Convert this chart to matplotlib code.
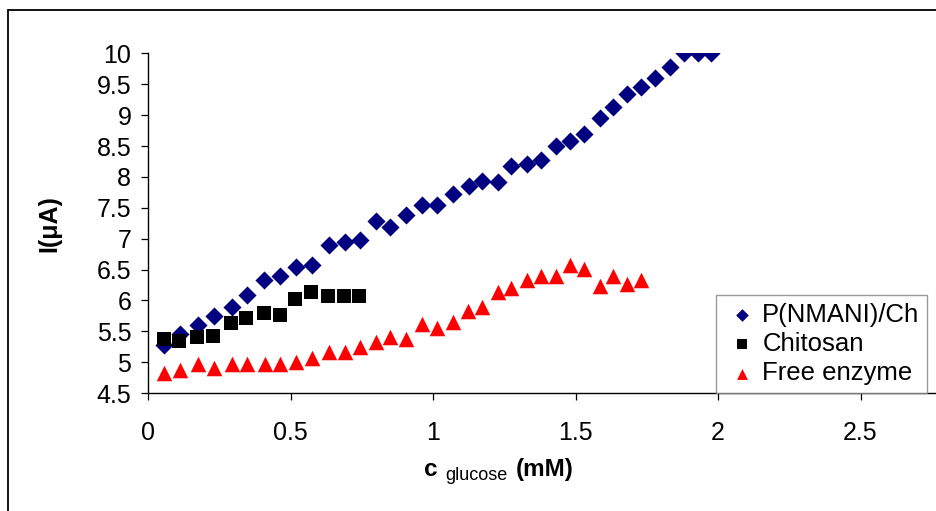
import matplotlib.pyplot as plt
from matplotlib.patches import Rectangle

plt.rcParams['font.family'] = ['Liberation Sans', 'DejaVu Sans']

# P(NMANI)/Ch
c_pn = [0.056, 0.112, 0.174, 0.232, 0.294, 0.347, 0.408, 0.464, 0.518, 0.574,
        0.636, 0.691, 0.744, 0.800, 0.849, 0.904, 0.960, 1.013, 1.069, 1.125,
        1.173, 1.227, 1.275, 1.331, 1.379, 1.433, 1.482, 1.530, 1.585, 1.633,
        1.681, 1.729, 1.778, 1.832, 1.881, 1.929, 1.975]
i_pn = [5.28, 5.46, 5.60, 5.75, 5.90, 6.08, 6.33, 6.39, 6.54, 6.58,
        6.89, 6.95, 6.98, 7.29, 7.19, 7.38, 7.54, 7.54, 7.72, 7.85,
        7.94, 7.92, 8.18, 8.21, 8.28, 8.50, 8.58, 8.70, 8.95, 9.13,
        9.35, 9.45, 9.60, 9.78, 10.0, 10.0, 10.0]

# Chitosan
c_ch = [0.056, 0.110, 0.173, 0.227, 0.290, 0.344, 0.407, 0.463, 0.516, 0.571,
        0.633, 0.689, 0.742]
i_ch = [5.37, 5.34, 5.41, 5.43, 5.64, 5.71, 5.80, 5.76, 6.02, 6.13,
        6.07, 6.07, 6.07]

# Free enzyme
c_fe = [0.057, 0.113, 0.175, 0.230, 0.294, 0.347, 0.409, 0.464, 0.518, 0.574,
        0.636, 0.691, 0.745, 0.800, 0.849, 0.904, 0.960, 1.013, 1.069, 1.124,
        1.173, 1.227, 1.275, 1.330, 1.379, 1.433, 1.482, 1.530, 1.585, 1.633,
        1.681, 1.729]
i_fe = [4.82, 4.88, 4.97, 4.91, 4.97, 4.97, 4.97, 4.97, 5.00, 5.06,
        5.16, 5.16, 5.25, 5.32, 5.41, 5.37, 5.62, 5.56, 5.65, 5.83,
        5.89, 6.14, 6.20, 6.33, 6.39, 6.39, 6.57, 6.51, 6.23, 6.39,
        6.26, 6.33]

xticks = [0, 0.5, 1, 1.5, 2, 2.5]
yticks = [4.5, 5, 5.5, 6, 6.5, 7, 7.5, 8, 8.5, 9, 9.5, 10]

W, H = 936, 511
fig = plt.figure(figsize=(W / 100, H / 100), dpi=100)

# outer chart frame (cut by the image edge on the right and bottom)
fig.patches.append(Rectangle((8 / W, -0.2), 1.2, 1.2 - 10 / H,
                             transform=fig.transFigure, fill=False,
                             edgecolor='black', linewidth=1.3))

ax = fig.add_axes([148 / W, 1 - 393 / H, 3 * 285 / W, (393 - 53.5) / H])
ax.scatter(c_pn, i_pn, marker='D', s=85, color='#000080', label='P(NMANI)/Ch',
           linewidths=0, zorder=3)
ax.scatter(c_ch, i_ch, marker='s', s=115, color='black', label='Chitosan',
           linewidths=0, zorder=3)
ax.scatter(c_fe, i_fe, marker='^', s=125, color='#FF0000', label='Free enzyme',
           linewidths=0, zorder=3)

ax.set_xlim(0, 3)
ax.set_ylim(4.5, 10)
ax.set_xticks(xticks)
ax.set_xticklabels(['0', '0.5', '1', '1.5', '2', '2.5'])
ax.set_yticks(yticks)
ax.set_yticklabels(['4.5', '5', '5.5', '6', '6.5', '7', '7.5', '8', '8.5',
                    '9', '9.5', '10'])
for s in ['top', 'right']:
    ax.spines[s].set_visible(False)
for s in ['left', 'bottom']:
    ax.spines[s].set_linewidth(1.0)
ax.tick_params(axis='x', direction='out', length=5, width=0.9, pad=15,
               labelsize=18)
ax.tick_params(axis='y', direction='out', length=5, width=0.9, pad=7,
               labelsize=18)

fig.text(49 / W, 1 - 224 / H, 'I(μA)', rotation=90, fontsize=18,
         fontweight='bold', ha='center', va='center')
fig.text(424 / W, 1 - 476 / H, 'c', fontsize=17.5, fontweight='bold',
         ha='left', va='baseline')
fig.text(445 / W, 1 - 480 / H, 'glucose', fontsize=13, ha='left',
         va='baseline')
fig.text(516 / W, 1 - 476 / H, '(mM)', fontsize=17.5, fontweight='bold',
         ha='left', va='baseline')

leg = ax.legend(loc='lower left', bbox_to_anchor=(716 / W, 1 - 393 / H),
                bbox_transform=fig.transFigure, borderaxespad=0,
                fontsize=18.5, frameon=True, fancybox=False,
                handlelength=1.4, handletextpad=0.1, labelspacing=0.2,
                borderpad=0.3, scatterpoints=1, markerscale=0.7)
leg.get_frame().set_edgecolor('#808080')
leg.get_frame().set_linewidth(1.0)

fig.savefig('out.png', dpi=100)
